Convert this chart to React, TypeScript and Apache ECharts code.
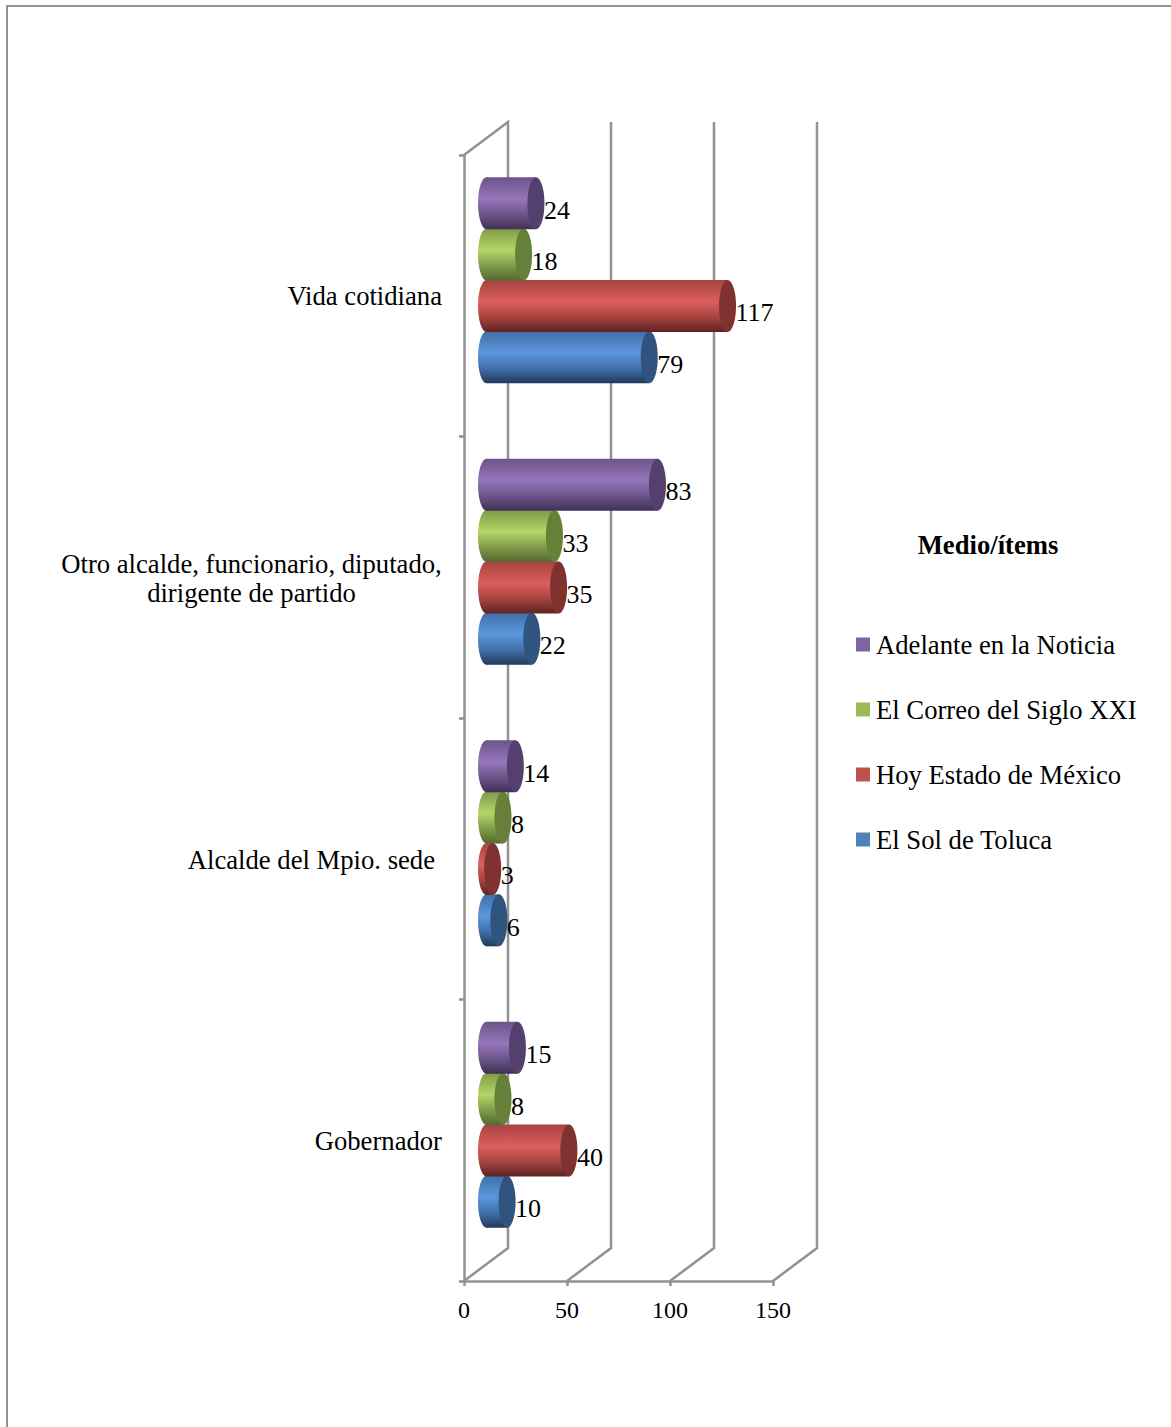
import React, { useEffect, useRef } from "react";
import * as echarts from "echarts";

// Mentions per outlet, listed from the bottom category upward.
const categories = [
  "Gobernador",
  "Alcalde del Mpio. sede",
  "Otro alcalde, funcionario, diputado,\ndirigente de partido",
  "Vida cotidiana",
];
const solDeToluca = [10, 6, 22, 79];
const hoyEstado = [40, 3, 35, 117];
const correoSiglo = [8, 8, 33, 18];
const adelanteNoticia = [15, 14, 83, 24];
const legendOrder = ["Adelante en la Noticia", "El Correo del Siglo XXI", "Hoy Estado de México", "El Sol de Toluca"];
const axisTicks = [0, 50, 100, 150];

const SERIF = '"Liberation Serif", serif';
const GREY = "#929292";
const LINE_WIDTH = 2.5;
const TEXT_SIZE = 26.67;
const VALUE_SIZE = 26;

type Palette = { swatch: string; edge: string; mid: string; low: string; cap: string };

const palettes: Record<string, Palette> = {
  sol: { swatch: "#4f81bd", edge: "#3f6fa8", mid: "#5c97dc", low: "#22395a", cap: "#30547f" },
  hoy: { swatch: "#c0504d", edge: "#a64340", mid: "#dc5f5c", low: "#5e2422", cap: "#7f3230" },
  correo: { swatch: "#9bbb59", edge: "#7f9a49", mid: "#b4d566", low: "#55692f", cap: "#66803a" },
  adelante: { swatch: "#8064a2", edge: "#6c5489", mid: "#9676bb", low: "#3f3155", cap: "#54406e" },
};

// Horizontal 3D cylinder: rounded base, shaded body and a darker end cap, plus its value.
function cylinderSeries(name: string, values: number[], palette: Palette, slot: number) {
  return {
    type: "custom",
    name,
    itemStyle: { color: palette.swatch },
    data: values.map((v, i) => [v, i]),
    encode: { x: 0, y: 1 },
    renderItem: (_params: any, api: any) => {
      const value = api.value(0);
      const [ex, cy] = api.coord([value, api.value(1)]);
      const [bx] = api.coord([0, api.value(1)]);
      const band = api.size([0, 1])[1] * 0.1825;
      const h = band + 0.6;
      const rx = 8.5;
      const ry = h / 2;
      const dx = 22.5;
      const dy = -15.5;
      const y = cy + dy + slot * band;
      const x0 = bx + dx;
      const x1 = ex + dx;
      const fill = new echarts.graphic.LinearGradient(0, 0, 0, 1, [
        { offset: 0, color: palette.edge },
        { offset: 0.42, color: palette.mid },
        { offset: 0.72, color: palette.edge },
        { offset: 1, color: palette.low },
      ]);
      return {
        type: "group",
        children: [
          { type: "ellipse", shape: { cx: x0, cy: y, rx, ry }, style: { fill } },
          { type: "rect", shape: { x: x0, y: y - ry, width: x1 - x0, height: h }, style: { fill } },
          { type: "ellipse", shape: { cx: x1, cy: y, rx, ry }, style: { fill: palette.cap } },
          {
            type: "text",
            style: {
              text: String(value),
              x: x1 + rx - 0.5,
              y: y + 7,
              fill: "#000",
              font: `${VALUE_SIZE}px ${SERIF}`,
              textAlign: "left",
              textVerticalAlign: "middle",
            },
          },
        ],
      };
    },
  };
}

// Receding floor lines and back-wall gridlines behind the bars.
const wallSeries = {
  type: "custom",
  name: "walls",
  silent: true,
  data: axisTicks.map((t) => [t]),
  encode: { x: 0 },
  renderItem: (params: any, api: any) => {
    const { y, height } = params.coordSys;
    const x = api.coord([api.value(0), 0])[0];
    const depthX = 44;
    const depthY = 33;
    const lineStyle = { stroke: GREY, lineWidth: LINE_WIDTH, fill: "none" };
    const pts = [
      [x, y + height],
      [x + depthX, y + height - depthY],
      [x + depthX, y - depthY],
    ];
    if (api.value(0) === 0) pts.push([x, y]);
    return { type: "polyline", shape: { points: pts }, style: lineStyle };
  },
};

export default function App() {
  const ref = useRef<HTMLDivElement>(null);
  useEffect(() => {
    const chart = echarts.init(ref.current!, undefined, { renderer: "svg" });
    const labelFont = { fontFamily: SERIF, fontSize: TEXT_SIZE, color: "#000" };
    const axisStroke = { color: GREY, width: LINE_WIDTH };
    chart.setOption({
      animation: false,
      backgroundColor: "#fff",
      title: {
        text: "Medio/ítems",
        left: 983,
        top: 526,
        textAlign: "center",
        textStyle: { ...labelFont, fontWeight: "bold" },
      },
      legend: {
        orient: "vertical",
        left: 851,
        top: 626,
        icon: "rect",
        itemWidth: 14,
        itemHeight: 14,
        itemGap: 38,
        selectedMode: false,
        data: legendOrder,
        textStyle: { ...labelFont, lineHeight: 26, padding: [0, 0, 0, 1] },
      },
      grid: { left: 464, top: 155, width: 309, height: 1126 },
      xAxis: {
        type: "value",
        min: 0,
        max: 150,
        interval: 50,
        splitLine: { show: false },
        axisLine: { show: true, lineStyle: axisStroke },
        axisTick: { show: true, length: 5, lineStyle: axisStroke },
        axisLabel: { margin: 17, fontFamily: SERIF, fontSize: 24, color: "#000" },
      },
      yAxis: {
        type: "category",
        data: categories,
        axisLine: { show: true, lineStyle: axisStroke },
        axisTick: { show: true, length: 5, lineStyle: axisStroke },
        axisLabel: {
          margin: 22,
          ...labelFont,
          formatter: (v: string) => {
            if (v.includes("\n")) return v.split("\n").map((l) => `{wide|${l}}`).join("\n");
            if (v.startsWith("Alcalde")) return `{inset|${v}}`;
            return `{plain|${v}}`;
          },
          rich: {
            wide: { ...labelFont, width: 381, align: "center", lineHeight: 29, padding: [2, 0, 0, 0] },
            inset: { ...labelFont, padding: [2, 7, 0, 0] },
            plain: { ...labelFont, padding: [1, 0, 0, 0] },
          },
        },
      },
      graphic: [
        {
          type: "polyline",
          silent: true,
          shape: { points: [[7, 1427], [7, 6], [1171, 6]] },
          style: { stroke: GREY, lineWidth: 2, fill: "none" },
        },
      ],
      series: [
        wallSeries,
        cylinderSeries("El Sol de Toluca", solDeToluca, palettes.sol, 1.5),
        cylinderSeries("Hoy Estado de México", hoyEstado, palettes.hoy, 0.5),
        cylinderSeries("El Correo del Siglo XXI", correoSiglo, palettes.correo, -0.5),
        cylinderSeries("Adelante en la Noticia", adelanteNoticia, palettes.adelante, -1.5),
      ],
    });
    return () => chart.dispose();
  }, []);
  return <div ref={ref} style={{ position: "absolute", left: 0, top: 0, width: 1171, height: 1427 }} />;
}
